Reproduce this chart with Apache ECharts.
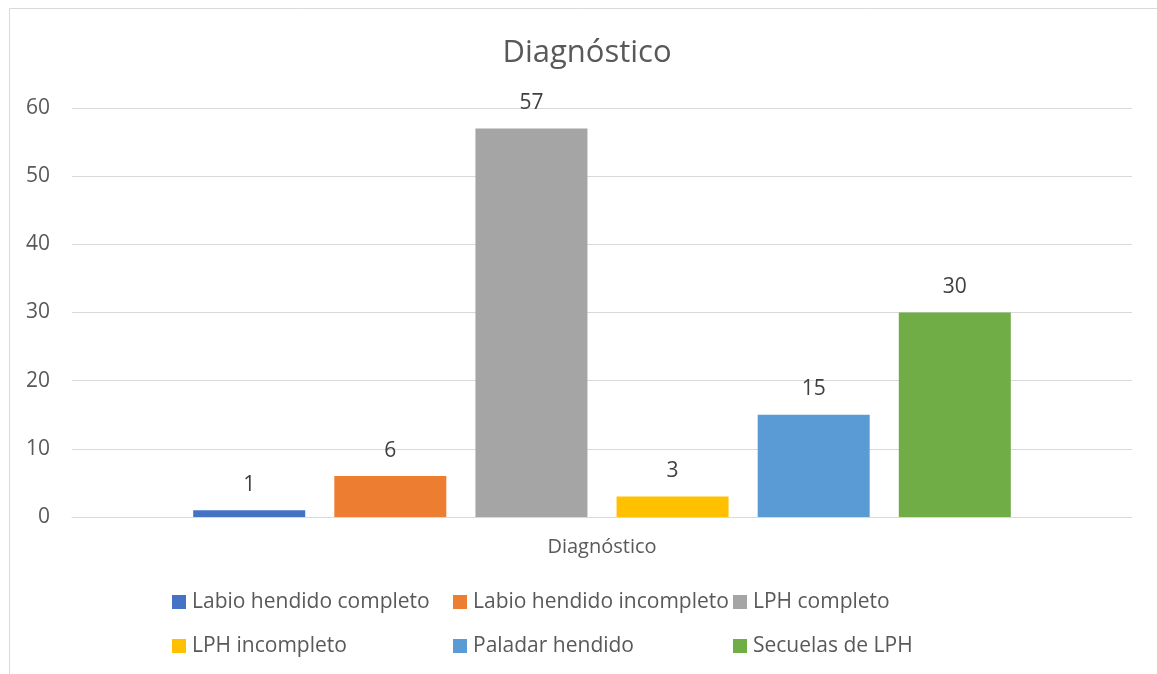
<!DOCTYPE html>
<html>
<head>
<meta charset="utf-8">
<title>Diagnóstico</title>
<script src="https://cdn.jsdelivr.net/npm/echarts@6/dist/echarts.min.js"></script>
<style>
  html, body { margin: 0; padding: 0; background: #ffffff; }
  #chart { width: 1157px; height: 674px; }
</style>
</head>
<body>
<div id="chart"></div>
<script>
// Single category, one bar per diagnosis
const categories = ['Diagnóstico'];
const seriesNames = [
  'Labio hendido completo',
  'Labio hendido incompleto',
  'LPH completo',
  'LPH incompleto',
  'Paladar hendido',
  'Secuelas de LPH'
];
const seriesValues = [1, 6, 57, 3, 15, 30];
const seriesColors = ['#4472C4', '#ED7D31', '#A5A5A5', '#FFC000', '#5B9BD5', '#70AD47'];

// Legend slots: three columns, two rows
const legendColumns = [172, 453, 733];
const legendRows = [591, 635];

const FONT = '"Open Sans", "Noto Sans", sans-serif';
const TEXT = '#595959';

const chart = echarts.init(document.getElementById('chart'), null, { renderer: 'canvas' });

const series = seriesNames.map((name, i) => ({
  name: name,
  type: 'bar',
  data: [seriesValues[i]],
  barWidth: 112,
  barGap: '26%',
  itemStyle: { color: seriesColors[i] },
  label: {
    show: true,
    position: 'top',
    distance: 15,
    fontFamily: FONT,
    fontSize: 21,
    color: '#404040'
  }
}));

const legends = seriesNames.map((name, i) => ({
  data: [name],
  left: legendColumns[i % 3],
  top: legendRows[Math.floor(i / 3)],
  padding: 0,
  icon: 'rect',
  itemWidth: 14,
  itemHeight: 14,
  itemGap: 0,
  selectedMode: false,
  textStyle: { fontFamily: FONT, fontSize: 21, color: TEXT, lineHeight: 22, padding: [0, 0, 0, 1] }
}));

chart.setOption({
  backgroundColor: '#ffffff',
  animation: false,
  title: {
    text: 'Diagnóstico',
    left: 587,
    top: 38,
    textAlign: 'center',
    padding: 0,
    textStyle: { fontFamily: FONT, fontSize: 31, fontWeight: 'normal', color: TEXT }
  },
  graphic: [{
    type: 'rect',
    shape: { x: 9.5, y: 8.5, width: 1170, height: 700 },
    style: { fill: 'none', stroke: '#d9d9d9', lineWidth: 1 },
    silent: true,
    z: -1
  }],
  legend: legends,
  grid: { left: 72, right: 25, top: 108, bottom: 157, containLabel: false },
  xAxis: {
    type: 'category',
    data: categories,
    axisLine: { show: true, lineStyle: { color: '#d9d9d9', width: 1 } },
    axisTick: { show: false },
    axisLabel: { margin: 20, fontFamily: FONT, fontSize: 20, color: TEXT }
  },
  yAxis: {
    type: 'value',
    min: 0,
    max: 60,
    interval: 10,
    axisLine: { show: false },
    axisTick: { show: false },
    splitLine: { lineStyle: { color: '#d9d9d9', width: 1 } },
    axisLabel: { margin: 22, fontFamily: FONT, fontSize: 21, color: TEXT }
  },
  series: series
});
</script>
</body>
</html>
